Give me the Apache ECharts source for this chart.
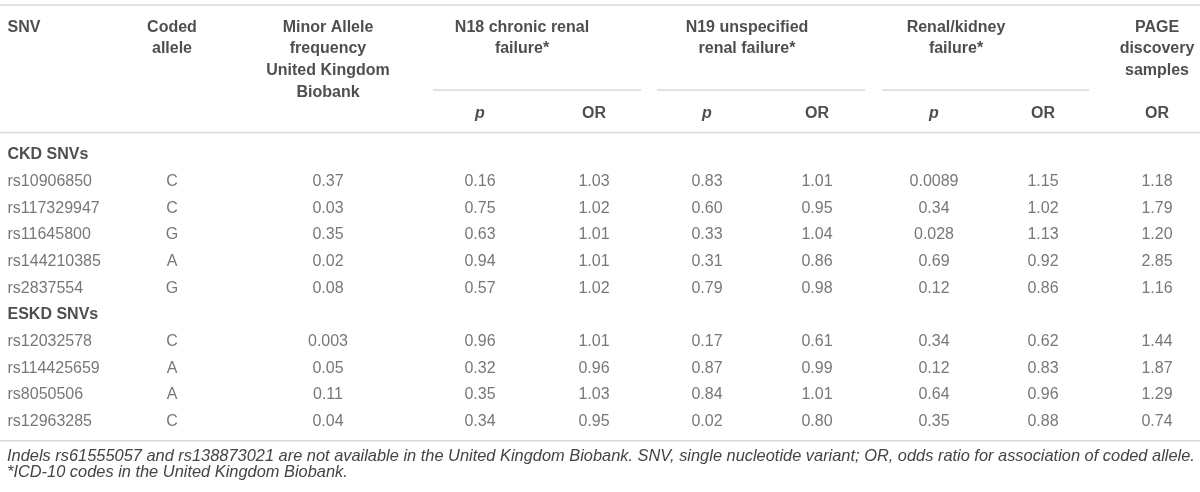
<!DOCTYPE html>
<html>
<head>
<meta charset="utf-8">
<script src="https://cdn.jsdelivr.net/npm/echarts@6/dist/echarts.min.js"></script>
<style>
html,body{margin:0;padding:0;background:#fff;}
#chart{width:1200px;height:492px;}
</style>
</head>
<body>
<div id="chart"></div>
<script>
// ---------- data ----------
const groupNames = ['CKD SNVs', 'ESKD SNVs'];
const ckdSnvs = ['rs10906850', 'rs117329947', 'rs11645800', 'rs144210385', 'rs2837554'];
const eskdSnvs = ['rs12032578', 'rs114425659', 'rs8050506', 'rs12963285'];
const codedAllele = ['C', 'C', 'G', 'A', 'G', 'C', 'A', 'A', 'C'];
const mafUKB = ['0.37', '0.03', '0.35', '0.02', '0.08', '0.003', '0.05', '0.11', '0.04'];
const n18P = ['0.16', '0.75', '0.63', '0.94', '0.57', '0.96', '0.32', '0.35', '0.34'];
const n18OR = ['1.03', '1.02', '1.01', '1.01', '1.02', '1.01', '0.96', '1.03', '0.95'];
const n19P = ['0.83', '0.60', '0.33', '0.31', '0.79', '0.17', '0.87', '0.84', '0.02'];
const n19OR = ['1.01', '0.95', '1.04', '0.86', '0.98', '0.61', '0.99', '1.01', '0.80'];
const renalP = ['0.0089', '0.34', '0.028', '0.69', '0.12', '0.34', '0.12', '0.64', '0.35'];
const renalOR = ['1.15', '1.02', '1.13', '0.92', '0.86', '0.62', '0.83', '0.96', '0.88'];
const pageOR = ['1.18', '1.79', '1.20', '2.85', '1.16', '1.44', '1.87', '1.29', '0.74'];

const colHeaders = [
  ['SNV'],
  ['Coded', 'allele'],
  ['Minor Allele', 'frequency', 'United Kingdom', 'Biobank'],
  ['PAGE', 'discovery', 'samples']
];
const groupHeaders = [
  ['N18 chronic renal', 'failure*'],
  ['N19 unspecified', 'renal failure*'],
  ['Renal/kidney', 'failure*']
];
const subHeaders = ['p', 'OR', 'p', 'OR', 'p', 'OR', 'OR'];
const footnotes = [
  'Indels rs61555057 and rs138873021 are not available in the United Kingdom Biobank. SNV, single nucleotide variant; OR, odds ratio for association of coded allele.',
  '*ICD-10 codes in the United Kingdom Biobank.'
];

// ---------- layout ----------
const X = { snv: 7, allele: 172, maf: 328, n18p: 480, n18or: 594, n19p: 707, n19or: 817, renp: 934, renor: 1043, page: 1157 };
const colHeaderX = [X.snv, X.allele, X.maf, X.page];
const groupHeaderX = [522, 747, 956];
const subHeaderX = [X.n18p, X.n18or, X.n19p, X.n19or, X.renp, X.renor, X.page];
const headerSlots = ['line1', 'line2', 'line3', 'line4', 'sub'];
const FONT = '"Liberation Sans", Arial, Helvetica, sans-serif';
const RULE = '#d9d9d9';

// body rows: group label rows plus SNV rows
const rowNames = [groupNames[0]].concat(ckdSnvs, [groupNames[1]], eskdSnvs);
const snvs = ckdSnvs.concat(eskdSnvs);
function snvRow(i) { return i < ckdSnvs.length ? i + 1 : i + 2; }

function textSeries(gridIdx, points, opts) {
  opts = opts || {};
  return {
    type: 'scatter',
    xAxisIndex: gridIdx,
    yAxisIndex: gridIdx,
    symbolSize: 1,
    silent: true,
    itemStyle: { color: 'rgba(0,0,0,0)' },
    data: points.map(p => ({ value: [p[0], p[1]], name: p[2] })),
    label: {
      show: true,
      formatter: '{b}',
      position: opts.left ? 'right' : 'inside',
      distance: 0,
      color: opts.color || '#555',
      fontFamily: FONT,
      fontSize: 16,
      fontWeight: opts.bold ? 'bold' : 'normal',
      fontStyle: opts.italic ? 'italic' : 'normal'
    }
  };
}

// header points
const headerPtsLeft = [], headerPtsCenter = [], subPtsP = [], subPtsOR = [];
colHeaders.forEach((lines, c) => {
  lines.forEach((t, k) => {
    (c === 0 ? headerPtsLeft : headerPtsCenter).push([colHeaderX[c], k, t]);
  });
});
groupHeaders.forEach((lines, g) => {
  lines.forEach((t, k) => headerPtsCenter.push([groupHeaderX[g], k, t]));
});
subHeaders.forEach((t, i) => {
  (t === 'p' ? subPtsP : subPtsOR).push([subHeaderX[i], 4, t]);
});

// body points
const groupPts = groupNames.map((g, i) => [X.snv, i === 0 ? 0 : ckdSnvs.length + 1, g]);
const snvPts = snvs.map((s, i) => [X.snv, snvRow(i), s]);
function colPts(arr, x) { return arr.map((v, i) => [x, snvRow(i), v]); }

const series = [
  textSeries(0, headerPtsLeft, { left: true, bold: true, color: '#222' }),
  textSeries(0, headerPtsCenter, { bold: true, color: '#222' }),
  textSeries(0, subPtsP, { bold: true, italic: true, color: '#222' }),
  textSeries(0, subPtsOR, { bold: true, color: '#222' }),
  textSeries(1, groupPts, { left: true, bold: true, color: '#222' }),
  textSeries(1, snvPts, { left: true }),
  textSeries(1, colPts(codedAllele, X.allele)),
  textSeries(1, colPts(mafUKB, X.maf)),
  textSeries(1, colPts(n18P, X.n18p)),
  textSeries(1, colPts(n18OR, X.n18or)),
  textSeries(1, colPts(n19P, X.n19p)),
  textSeries(1, colPts(n19OR, X.n19or)),
  textSeries(1, colPts(renalP, X.renp)),
  textSeries(1, colPts(renalOR, X.renor)),
  textSeries(1, colPts(pageOR, X.page))
];

function hline(x1, x2, y) {
  return { type: 'line', silent: true, shape: { x1: x1, y1: y, x2: x2, y2: y }, style: { stroke: RULE, lineWidth: 1.5 } };
}

const option = {
  animation: false,
  backgroundColor: '#fff',
  title: {
    text: footnotes.join('\n'),
    left: 7,
    top: 448.5,
    padding: 0,
    textStyle: { fontFamily: FONT, fontSize: 16.4, fontStyle: 'italic', fontWeight: 'normal', color: '#444', lineHeight: 16 }
  },
  grid: [
    { left: 0, right: 0, top: 16.5, height: 108.25 },
    { left: 0, right: 0, top: 141.5, height: 293.33 }
  ],
  xAxis: [
    { gridIndex: 0, type: 'value', min: 0, max: 1200, show: false },
    { gridIndex: 1, type: 'value', min: 0, max: 1200, show: false }
  ],
  yAxis: [
    { gridIndex: 0, type: 'category', data: headerSlots, inverse: true, show: false },
    { gridIndex: 1, type: 'category', data: rowNames, inverse: true, show: false }
  ],
  graphic: [
    hline(0, 1200, 5),
    hline(433, 641, 90),
    hline(657, 865, 90),
    hline(882, 1089, 90),
    hline(0, 1200, 132.5),
    hline(0, 1200, 440.7)
  ],
  series: series
};

const chart = echarts.init(document.getElementById('chart'));
chart.setOption(option);
</script>
</body>
</html>
